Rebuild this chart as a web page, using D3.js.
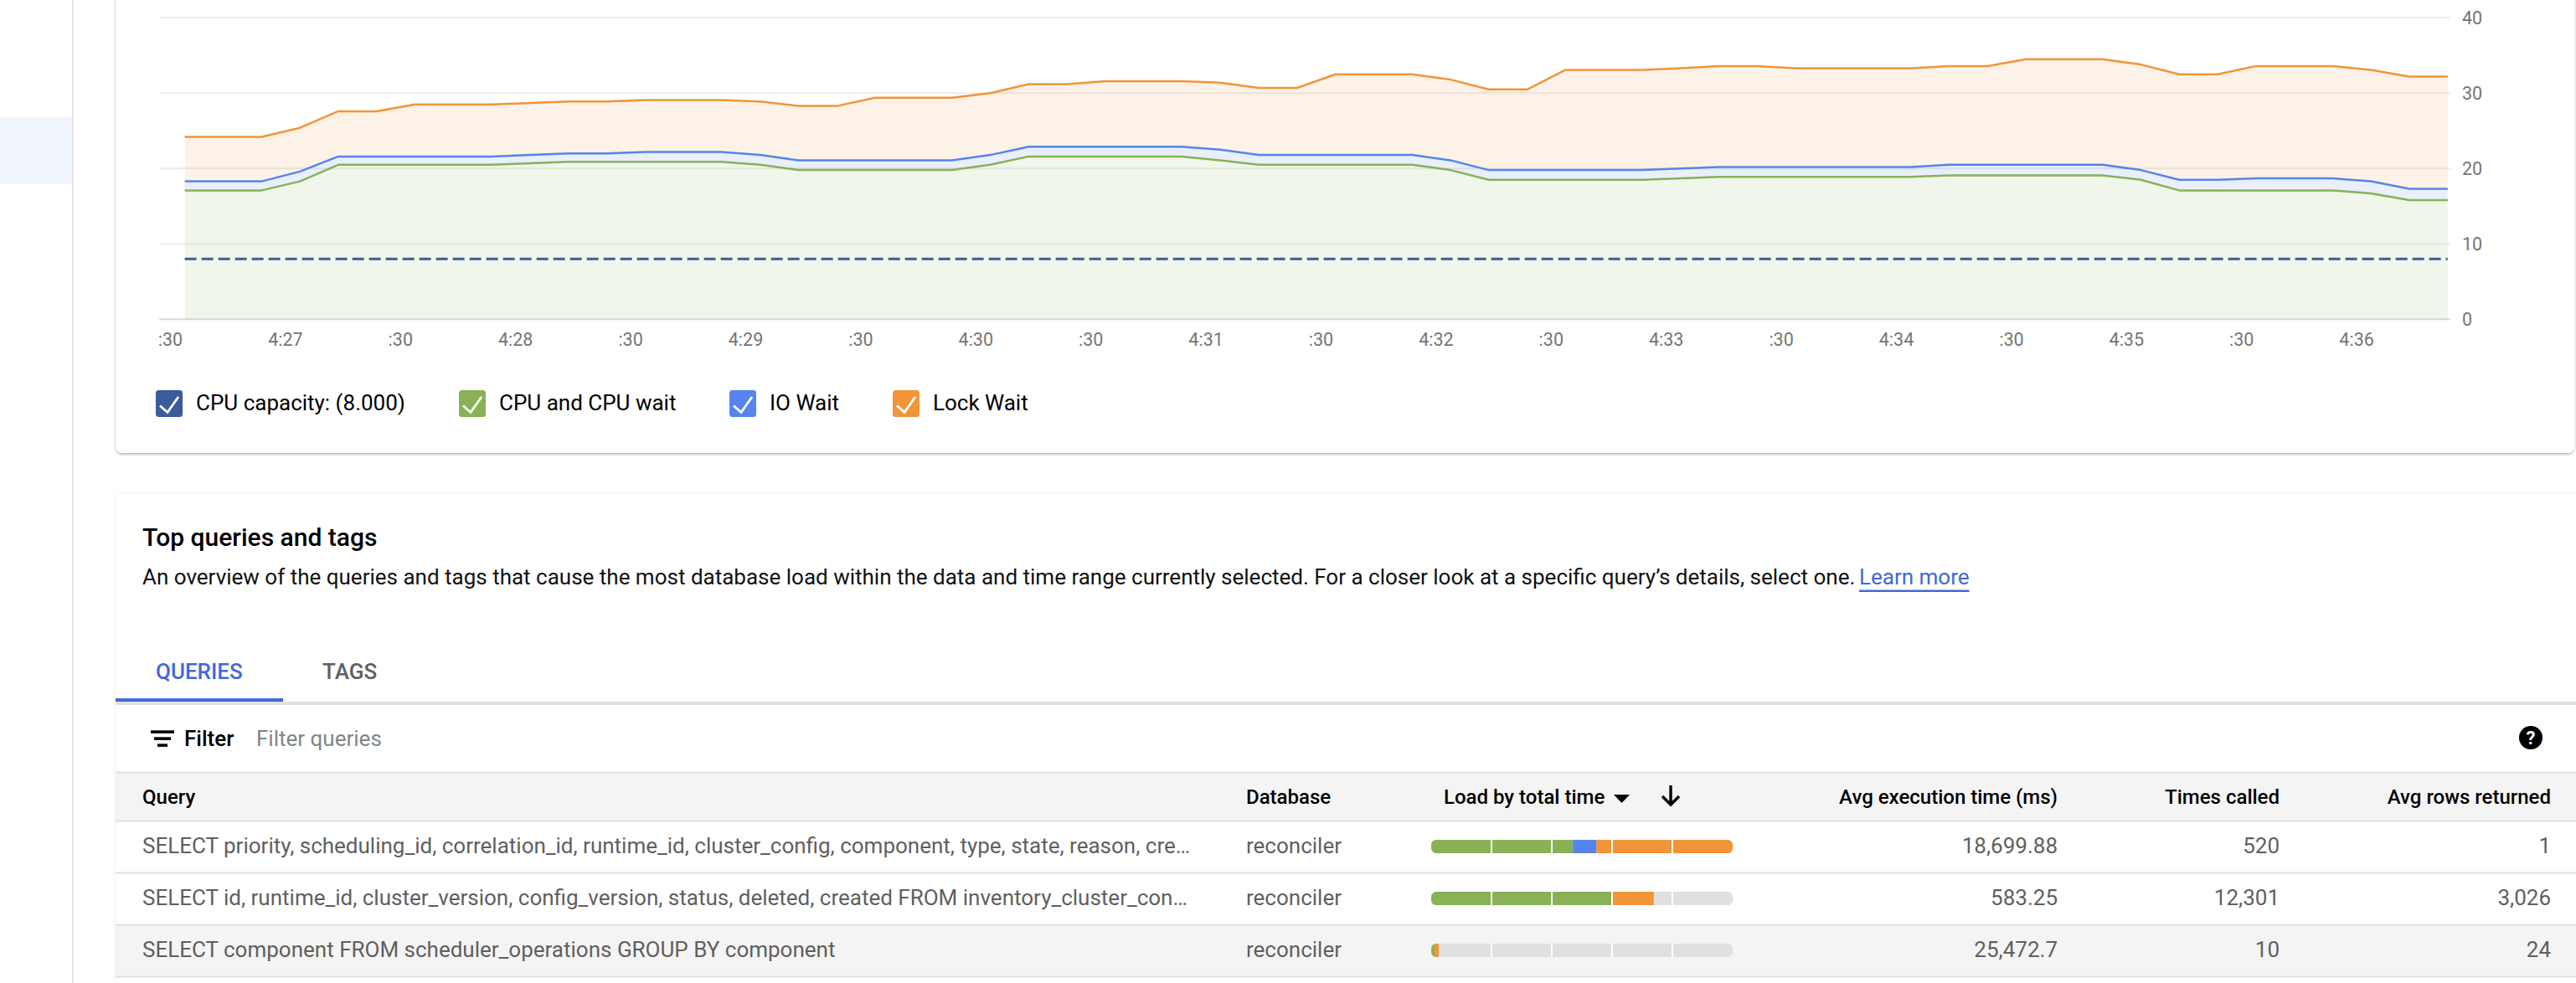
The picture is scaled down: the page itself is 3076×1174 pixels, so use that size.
<!DOCTYPE html>
<html>
<head>
<meta charset="utf-8">
<title>Top queries and tags</title>
<script src="https://cdn.jsdelivr.net/npm/d3@7"></script>
<style>
  html, body { margin: 0; padding: 0; background: #fff; overflow: hidden; }
  svg { display: block; font-family: Roboto, sans-serif; }
</style>
</head>
<body>
<svg id="page" width="3076" height="1174"></svg>
<script>
// stacked tops, one point every 10 s
var cpuWait = [17.1,17.1,17.1,18.3,20.5,20.5,20.5,20.5,20.5,20.7,20.9,20.9,20.9,20.9,20.9,20.5,19.8,19.8,19.8,19.8,
  19.8,20.5,21.6,21.6,21.6,21.6,21.6,21.1,20.5,20.5,20.5,20.5,20.5,19.8,18.5,18.5,18.5,18.5,18.5,18.7,
  18.9,18.9,18.9,18.9,18.9,18.9,19.1,19.1,19.1,19.1,19.1,18.5,17.1,17.1,17.1,17.1,17.1,16.7,15.8,15.8];
var ioWait = [18.3,18.3,18.3,19.6,21.6,21.6,21.6,21.6,21.6,21.8,22.0,22.0,22.2,22.2,22.2,21.8,21.1,21.1,21.1,21.1,
  21.1,21.8,22.9,22.9,22.9,22.9,22.9,22.5,21.8,21.8,21.8,21.8,21.8,21.1,19.8,19.8,19.8,19.8,19.8,20.0,
  20.2,20.2,20.2,20.2,20.2,20.2,20.5,20.5,20.5,20.5,20.5,19.8,18.5,18.5,18.7,18.7,18.7,18.3,17.3,17.3];
var lockWait = [24.2,24.2,24.2,25.4,27.6,27.6,28.5,28.5,28.5,28.7,28.9,28.9,29.1,29.1,29.1,28.9,28.3,28.3,29.4,29.4,
  29.4,30.0,31.2,31.2,31.6,31.6,31.6,31.4,30.7,30.7,32.5,32.5,32.5,31.8,30.5,30.5,33.1,33.1,33.1,33.3,
  33.6,33.6,33.3,33.3,33.3,33.3,33.6,33.6,34.5,34.5,34.5,33.8,32.5,32.5,33.6,33.6,33.6,33.1,32.2,32.2];
var cpuCapacity = 8;

var yTicks = [0, 10, 20, 30, 40];
var tickSeconds = d3.range(30, 630, 30);
var tickLabels = [":30","4:27",":30","4:28",":30","4:29",":30","4:30",":30","4:31",":30","4:32",":30","4:33",":30","4:34",":30","4:35",":30","4:36"];
var firstPoint = 33.85; // seconds after 4:26:00 of the first sample

var legendLabels = ["CPU capacity: (8.000)", "CPU and CPU wait", "IO Wait", "Lock Wait"];
var legendColors = ["#3b5c9a", "#89b156", "#5585ec", "#f29438"];
var legendX = [186, 548, 871, 1066];

var tableHeaders = ["Avg execution time (ms)", "Times called", "Avg rows returned"];
var queries = [
  "SELECT priority, scheduling_id, correlation_id, runtime_id, cluster_config, component, type, state, reason, cre…",
  "SELECT id, runtime_id, cluster_version, config_version, status, deleted, created FROM inventory_cluster_con…",
  "SELECT component FROM scheduler_operations GROUP BY component"
];
var databases = ["reconciler", "reconciler", "reconciler"];
var avgExecution = ["18,699.88", "583.25", "25,472.7"];
var timesCalled = ["520", "12,301", "10"];
var avgRows = ["1", "3,026", "24"];
// share of total load per query, percent: cpu, io, lock
var loadCpu = [47, 60, 1.1];
var loadIo = [7.8, 0, 0];
var loadLock = [45.2, 13.8, 1.4];

var svg = d3.select("#page");
var ink = "#000", textGrey = "#5f5f5f", lineGrey = "#e0e0e0";

var defs = svg.append("defs");
var shadow = defs.append("filter").attr("id", "cardShadow")
  .attr("x", "-2%").attr("y", "-5%").attr("width", "104%").attr("height", "110%");
shadow.append("feDropShadow").attr("dx", 0).attr("dy", 1.5).attr("stdDeviation", 1.5)
  .attr("flood-color", "#000").attr("flood-opacity", 0.32);
var shadowSoft = defs.append("filter").attr("id", "cardSoft")
  .attr("x", "-2%").attr("y", "-5%").attr("width", "104%").attr("height", "110%");
shadowSoft.append("feDropShadow").attr("dx", 0).attr("dy", 0).attr("stdDeviation", 1.5)
  .attr("flood-color", "#000").attr("flood-opacity", 0.1);

// sidebar
svg.append("rect").attr("x", 0).attr("y", 140).attr("width", 86).attr("height", 80).attr("fill", "#eff4fd");
svg.append("rect").attr("x", 86).attr("y", 0).attr("width", 2).attr("height", 1174).attr("fill", "#e2e2e2");

// cards
svg.append("rect").attr("x", 138).attr("y", -20).attr("width", 2936).attr("height", 561).attr("rx", 8)
  .attr("fill", "#fff").attr("filter", "url(#cardShadow)");
svg.append("rect").attr("x", 138).attr("y", 590).attr("width", 2960).attr("height", 620).attr("rx", 6)
  .attr("fill", "#fff").attr("filter", "url(#cardSoft)");

// ---- chart ----
var x = d3.scaleLinear().domain([30, 630]).range([203, 2951]);
var y = d3.scaleLinear().domain([0, 40]).range([381.3, 21.3]);
var sec = function(i) { return firstPoint + i * 10; };
var chart = svg.append("g");

chart.append("g").selectAll("line").data(yTicks).join("line")
  .attr("x1", 190).attr("x2", 2926)
  .attr("y1", function(d) { return y(d); }).attr("y2", function(d) { return y(d); })
  .attr("stroke", function(d) { return d === 0 ? "#dadada" : "#ececec"; })
  .attr("stroke-width", 2);

var layers = [
  { top: lockWait, base: ioWait, color: legendColors[3], alpha: 0.12 },
  { top: ioWait, base: cpuWait, color: legendColors[2], alpha: 0.13 },
  { top: cpuWait, base: null, color: legendColors[1], alpha: 0.12 }
];
layers.forEach(function(l) {
  var area = d3.area()
    .x(function(d, i) { return x(sec(i)); })
    .y0(function(d, i) { return y(l.base ? l.base[i] : 0); })
    .y1(function(d) { return y(d); });
  var line = d3.line()
    .x(function(d, i) { return x(sec(i)); })
    .y(function(d) { return y(d); });
  chart.append("path").datum(l.top).attr("d", area).attr("fill", l.color).attr("fill-opacity", l.alpha);
  chart.append("path").datum(l.top).attr("d", line).attr("fill", "none")
    .attr("stroke", l.color).attr("stroke-width", 2.5).attr("stroke-linejoin", "round");
});

chart.append("line")
  .attr("x1", x(sec(0))).attr("x2", x(sec(59)))
  .attr("y1", y(cpuCapacity)).attr("y2", y(cpuCapacity))
  .attr("stroke", legendColors[0]).attr("stroke-width", 3).attr("stroke-dasharray", "14 6");

var xAxis = d3.axisBottom(x).tickValues(tickSeconds).tickSize(0)
  .tickFormat(function(d, i) { return tickLabels[i]; });
var xg = chart.append("g").attr("transform", "translate(0,394.4)").call(xAxis);
xg.select(".domain").remove();
xg.selectAll("text").attr("font-size", 21.5).attr("fill", "#757575").attr("font-family", "Roboto, sans-serif");

var yAxis = d3.axisRight(y).tickValues(yTicks).tickSize(0);
var yg = chart.append("g").attr("transform", "translate(2937,0)").call(yAxis);
yg.select(".domain").remove();
yg.selectAll("text").attr("font-size", 21.5).attr("fill", "#757575").attr("font-family", "Roboto, sans-serif");

// legend
var legend = svg.append("g").selectAll("g").data(legendLabels).join("g")
  .attr("transform", function(d, i) { return "translate(" + legendX[i] + ",466)"; });
legend.append("rect").attr("width", 32).attr("height", 32).attr("rx", 3.5)
  .attr("fill", function(d, i) { return legendColors[i]; });
legend.append("path").attr("d", "M5 18.5L14 26.5L27 8").attr("fill", "none").attr("stroke", "#fff").attr("stroke-width", 2.8);
legend.append("text").attr("x", 48).attr("y", 24).attr("font-size", 26).attr("fill", ink)
  .text(function(d) { return d; });

// ---- top queries card ----
function label(x0, y0, str, size, color, weight, anchor) {
  return svg.append("text").attr("x", x0).attr("y", y0).attr("font-size", size)
    .attr("fill", color).attr("font-weight", weight || 400).attr("text-anchor", anchor || "start").text(str);
}
label(170, 652, "Top queries and tags", 30, ink, 500);
label(170, 698, "An overview of the queries and tags that cause the most database load within the data and time range currently selected. For a closer look at a specific query’s details, select one.", 26, "#111");
label(2220, 698, "Learn more", 26, "#4169d8");
svg.append("rect").attr("x", 2220).attr("y", 704.5).attr("width", 131.5).attr("height", 2.5).attr("fill", "#4169d8");

// tabs
label(186, 811, "QUERIES", 26, "#4169d8", 500);
label(385, 811, "TAGS", 26, textGrey, 500);
svg.append("rect").attr("x", 138).attr("y", 838).attr("width", 2938).attr("height", 4).attr("fill", lineGrey);
svg.append("rect").attr("x", 138).attr("y", 834).attr("width", 200).attr("height", 4).attr("fill", "#4169d8");

// filter row
var filterBars = [[180, 28], [184, 20], [188, 12]];
svg.append("g").selectAll("rect").data(filterBars).join("rect")
  .attr("x", function(d) { return d[0]; }).attr("y", function(d, i) { return 872.3 + i * 8; })
  .attr("width", function(d) { return d[1]; }).attr("height", 3.6).attr("fill", ink);
label(220, 891, "Filter", 26, ink, 500);
label(306, 891, "Filter queries", 26, "#80868b");
svg.append("circle").attr("cx", 3022).attr("cy", 881).attr("r", 14).attr("fill", ink);
label(3022, 889, "?", 22, "#fff", 700, "middle");

// table
var rowTop = [981, 1043, 1105];
svg.append("rect").attr("x", 138).attr("y", 923).attr("width", 2938).attr("height", 58).attr("fill", "#f4f4f4");
svg.append("rect").attr("x", 138).attr("y", rowTop[2]).attr("width", 2938).attr("height", 62).attr("fill", "#f4f4f4");
svg.append("g").selectAll("rect").data([923, 981, 1043, 1105, 1167]).join("rect")
  .attr("x", 138).attr("y", function(d) { return d - 1.5; })
  .attr("width", 2938).attr("height", 2).attr("fill", lineGrey);

label(170, 959.5, "Query", 24, ink, 500);
label(1488, 959.5, "Database", 24, ink, 500);
label(1724, 959.5, "Load by total time", 24, ink, 500);
svg.append("path").attr("d", d3.line()([[1927, 949], [1946, 949], [1936.5, 959]])).attr("fill", ink);
svg.append("path").attr("d", "M1995 938V961M1985 951L1995 961L2005 951").attr("fill", "none")
  .attr("stroke", ink).attr("stroke-width", 3.4);

var numberRight = [2457, 2722, 3046];
tableHeaders.forEach(function(h, i) { label(numberRight[i], 959.5, h, 24, ink, 500, "end"); });

var barX = d3.scaleLinear().domain([0, 100]).range([1709, 2069]);
var barSeps = [20, 40, 60, 80];

queries.forEach(function(q, r) {
  var base = rowTop[r] + 38;
  label(170, base, q, 26, textGrey);
  label(1488, base, databases[r], 26, textGrey);
  label(numberRight[0], base, avgExecution[r], 26, textGrey, 400, "end");
  label(numberRight[1], base, timesCalled[r], 26, textGrey, 400, "end");
  label(numberRight[2], base, avgRows[r], 26, textGrey, 400, "end");

  var barY = rowTop[r] + 22;
  var clipId = "bar" + r;
  defs.append("clipPath").attr("id", clipId).append("rect")
    .attr("x", barX(0)).attr("y", barY).attr("width", barX(100) - barX(0)).attr("height", 16).attr("rx", 6);
  var g = svg.append("g").attr("clip-path", "url(#" + clipId + ")");
  g.append("rect").attr("x", barX(0)).attr("y", barY).attr("width", barX(100) - barX(0)).attr("height", 16).attr("fill", lineGrey);
  var parts = [[loadCpu[r], legendColors[1]], [loadIo[r], legendColors[2]], [loadLock[r], legendColors[3]]];
  var acc = 0;
  parts.forEach(function(p) {
    g.append("rect").attr("x", barX(acc)).attr("y", barY).attr("width", barX(p[0]) - barX(0)).attr("height", 16).attr("fill", p[1]);
    acc += p[0];
  });
  g.selectAll("line").data(barSeps).join("line")
    .attr("x1", function(d) { return barX(d); }).attr("x2", function(d) { return barX(d); })
    .attr("y1", barY).attr("y2", barY + 16).attr("stroke", "#fff").attr("stroke-width", 2);
});
</script>
</body>
</html>
